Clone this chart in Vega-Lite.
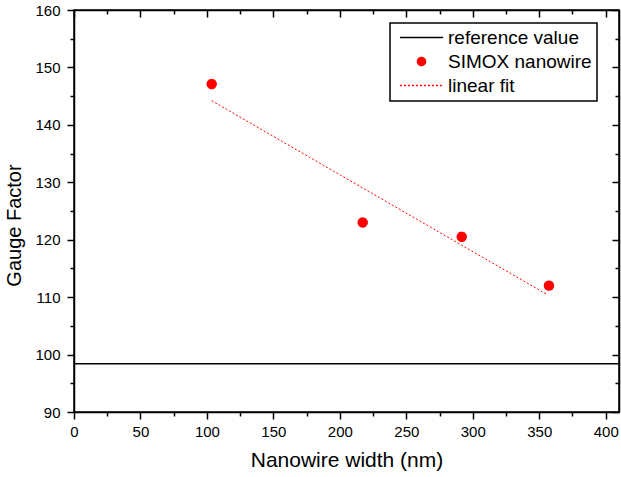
{
  "$schema": "https://vega.github.io/schema/vega-lite/v6.json",
  "width": 545,
  "height": 402,
  "autosize": {"type": "none"},
  "padding": {"left": 74, "top": 10, "right": 2, "bottom": 65},
  "background": "white",
  "config": {
    "font": "Liberation Sans",
    "view": {"stroke": "black", "strokeWidth": 1.5},
    "legend": {"strokeColor": "black", "strokeWidth": 1.5, "symbolStrokeWidth": 1.5},
    "axis": {
      "grid": false,
      "domainColor": "black",
      "domainWidth": 1.5,
      "tickColor": "black",
      "tickWidth": 1.5,
      "labelColor": "black",
      "labelFont": "Liberation Sans",
      "labelFontSize": 15,
      "labelFlush": false,
      "labelOverlap": false,
      "titleFont": "Liberation Sans",
      "titleFontSize": 20,
      "titleFontWeight": "normal",
      "titleColor": "black"
    }
  },
  "datasets": {
    "measured": [
      {"width_nm": 103.6, "gauge": 147.1, "series": "SIMOX nanowire"},
      {"width_nm": 217.2, "gauge": 123.0, "series": "SIMOX nanowire"},
      {"width_nm": 291.7, "gauge": 120.5, "series": "SIMOX nanowire"},
      {"width_nm": 357.3, "gauge": 112.0, "series": "SIMOX nanowire"}
    ],
    "fit": [
      {"width_nm": 103.6, "gauge": 144.2},
      {"width_nm": 355.6, "gauge": 110.5}
    ],
    "reference": [
      {"gauge": 98.4}
    ]
  },
  "resolve": {"axis": {"x": "independent", "y": "independent"}},
  "layer": [
    {
      "data": {"name": "reference"},
      "mark": {"type": "rule", "color": "black", "strokeWidth": 1.5},
      "encoding": {
        "y": {"field": "gauge", "type": "quantitative", "scale": {"domain": [90, 160], "nice": false, "zero": false}, "axis": null}
      }
    },
    {
      "data": {"name": "fit"},
      "mark": {"type": "line", "color": "red", "strokeWidth": 1, "strokeDash": [2, 2]},
      "encoding": {
        "x": {
          "field": "width_nm", "type": "quantitative",
          "scale": {"domain": [0, 410], "nice": false, "zero": false},
          "axis": {
            "orient": "bottom",
            "values": [0, 25, 50, 75, 100, 125, 150, 175, 200, 225, 250, 275, 300, 325, 350, 375, 400],
            "labelExpr": "datum.value % 50 === 0 ? datum.label : ''",
            "tickSize": {"condition": {"test": "datum.value % 50 !== 0", "value": 4}, "value": 7},
            "labelPadding": 5,
            "title": "Nanowire width (nm)",
            "titleFontSize": 21,
            "titlePadding": 10
          }
        },
        "y": {
          "field": "gauge", "type": "quantitative",
          "scale": {"domain": [90, 160], "nice": false, "zero": false},
          "axis": {
            "orient": "left",
            "values": [90, 95, 100, 105, 110, 115, 120, 125, 130, 135, 140, 145, 150, 155, 160],
            "labelExpr": "datum.value % 10 === 0 ? datum.label : ''",
            "tickSize": {"condition": {"test": "datum.value % 10 !== 0", "value": 4}, "value": 7},
            "labelPadding": 7,
            "title": "Gauge Factor",
            "titlePadding": 10,
            "titleY": 215
          }
        }
      }
    },
    {
      "data": {"name": "measured"},
      "mark": {"type": "point", "filled": true, "size": 70, "opacity": 1},
      "encoding": {
        "x": {
          "field": "width_nm", "type": "quantitative",
          "scale": {"domain": [0, 410], "nice": false, "zero": false},
          "axis": {
            "orient": "top",
            "values": [0, 25, 50, 75, 100, 125, 150, 175, 200, 225, 250, 275, 300, 325, 350, 375, 400],
            "labels": false,
            "title": null,
            "tickSize": {"condition": {"test": "datum.value % 50 !== 0", "value": -4}, "value": -7}
          }
        },
        "y": {
          "field": "gauge", "type": "quantitative",
          "scale": {"domain": [90, 160], "nice": false, "zero": false},
          "axis": {
            "orient": "right",
            "values": [90, 95, 100, 105, 110, 115, 120, 125, 130, 135, 140, 145, 150, 155, 160],
            "labels": false,
            "title": null,
            "tickSize": {"condition": {"test": "datum.value % 10 !== 0", "value": -4}, "value": -7}
          }
        },
        "color": {
          "field": "series", "type": "nominal",
          "scale": {"domain": ["reference value", "SIMOX nanowire", "linear fit"], "range": ["black", "red", "red"]},
          "legend": {
            "title": null,
            "orient": "none",
            "legendX": 316,
            "legendY": 13,
            "padding": 5,
            "fillColor": "white",
            "labelFont": "Liberation Sans",
            "labelFontSize": 19,
            "labelColor": "black",
            "labelOffset": 17,
            "symbolOffset": 17,
            "symbolSize": 64,
            "rowPadding": 4
          }
        },
        "stroke": {
          "field": "series", "type": "nominal",
          "scale": {"domain": ["reference value", "SIMOX nanowire", "linear fit"], "range": ["black", "red", "red"]}
        },
        "shape": {
          "field": "series", "type": "nominal",
          "scale": {"domain": ["reference value", "SIMOX nanowire", "linear fit"], "range": ["M-5.4,0H5.4", "circle", "M-5.4,0H5.4"]}
        },
        "strokeDash": {
          "field": "series", "type": "nominal",
          "scale": {"domain": ["reference value", "SIMOX nanowire", "linear fit"], "range": [[1, 0], [1, 0], [2, 2]]}
        }
      }
    }
  ]
}
